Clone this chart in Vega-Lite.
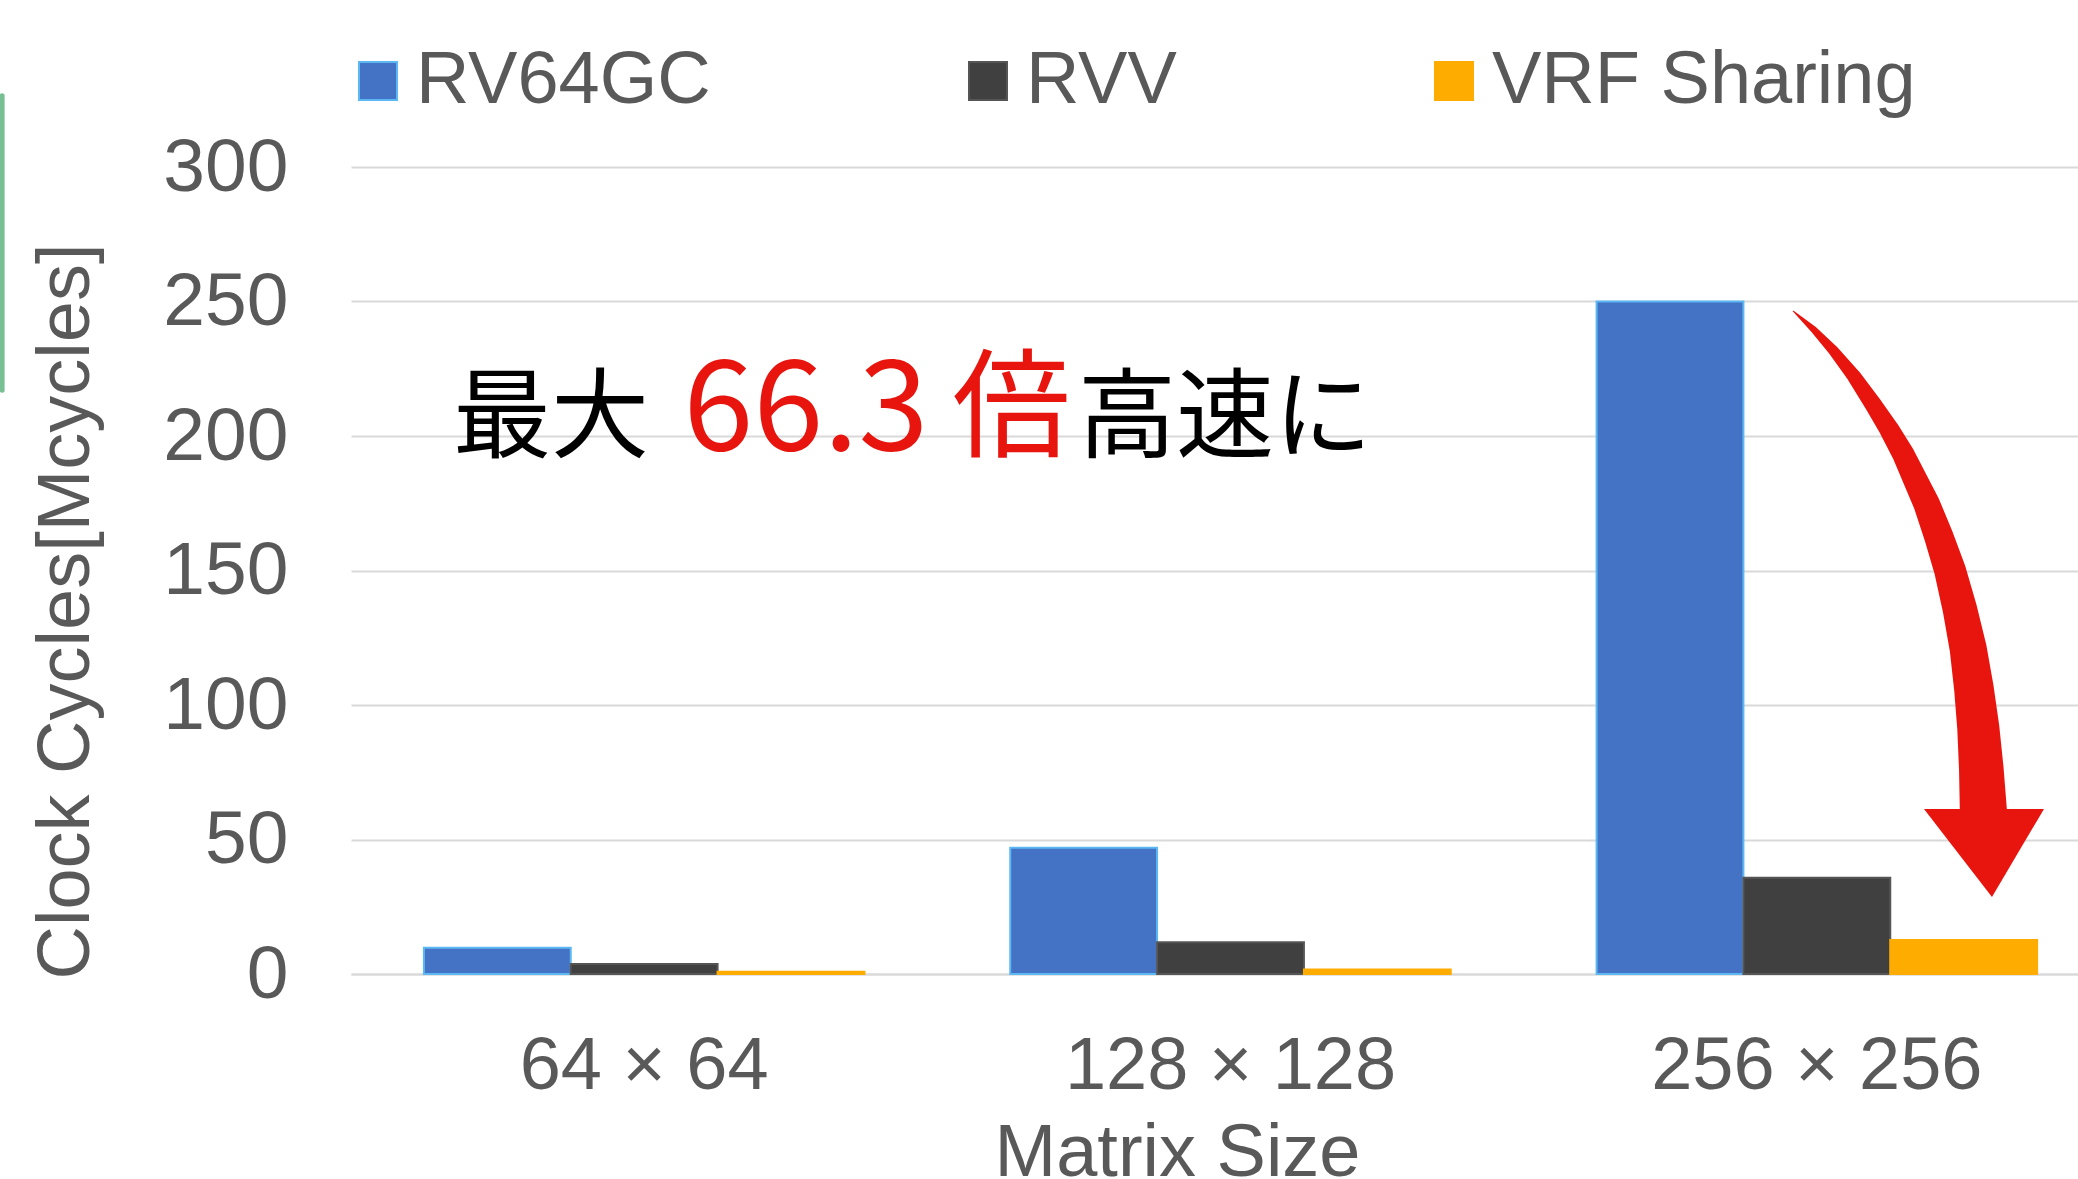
{
  "$schema": "https://vega.github.io/schema/vega-lite/v6.json",
  "width": 1727,
  "height": 807,
  "autosize": {"type": "none"},
  "padding": {"left": 351, "top": 167, "right": 0, "bottom": 205},
  "background": "#ffffff",
  "config": {"view": {"stroke": null}, "font": "Liberation Sans"},
  "datasets": {
    "bars": [
      {"size": "64 × 64", "series": "RV64GC", "cycles": 9.8},
      {"size": "64 × 64", "series": "RVV", "cycles": 3.7},
      {"size": "64 × 64", "series": "VRF Sharing", "cycles": 0.8},
      {"size": "128 × 128", "series": "RV64GC", "cycles": 46.9},
      {"size": "128 × 128", "series": "RVV", "cycles": 11.8},
      {"size": "128 × 128", "series": "VRF Sharing", "cycles": 1.7},
      {"size": "256 × 256", "series": "RV64GC", "cycles": 250},
      {"size": "256 × 256", "series": "RVV", "cycles": 35.8},
      {"size": "256 × 256", "series": "VRF Sharing", "cycles": 12.6}
    ],
    "arrow": [
      {"x": 2.4599, "y": 246.4, "t": 0},
      {"x": 2.4950, "y": 239.5, "t": 0.05},
      {"x": 2.5281, "y": 231.8, "t": 0.102},
      {"x": 2.5630, "y": 222.3, "t": 0.163},
      {"x": 2.5963, "y": 211.7, "t": 0.225},
      {"x": 2.6230, "y": 202.6, "t": 0.278},
      {"x": 2.6475, "y": 193.2, "t": 0.331},
      {"x": 2.6874, "y": 174.7, "t": 0.431},
      {"x": 2.7080, "y": 162.6, "t": 0.495},
      {"x": 2.7272, "y": 150.0, "t": 0.56},
      {"x": 2.7440, "y": 135.6, "t": 0.633},
      {"x": 2.7583, "y": 120.7, "t": 0.707},
      {"x": 2.7680, "y": 106.0, "t": 0.78},
      {"x": 2.7754, "y": 91.4, "t": 0.852},
      {"x": 2.7805, "y": 76.3, "t": 0.926},
      {"x": 2.7839, "y": 61.3, "t": 1}
    ]
  },
  "layer": [
    {
      "data": {"name": "bars"},
      "mark": {"type": "bar", "strokeWidth": 2},
      "encoding": {
        "x": {
          "field": "size", "type": "nominal",
          "sort": ["64 × 64", "128 × 128", "256 × 256"],
          "scale": {"range": [0, 1759], "paddingInner": 0.2487, "paddingOuter": 0.12435},
          "axis": {
            "title": "Matrix Size", "labelAngle": 0, "ticks": false, "tickSize": 0,
            "labelFontSize": 74, "labelColor": "#595959", "labelPadding": 114, "labelLimit": 1000,
            "labelBaseline": "alphabetic", "domainColor": "#D9D9D9", "domainWidth": 2,
            "titleFontSize": 74, "titleColor": "#595959", "titleFontWeight": "normal",
            "titleX": 826, "titleY": 201, "titleBaseline": "alphabetic", "titleAlign": "center",
            "titleLimit": 2000, "grid": false
          }
        },
        "xOffset": {
          "field": "series", "type": "nominal",
          "sort": ["RV64GC", "RVV", "VRF Sharing"],
          "scale": {"paddingInner": 0, "paddingOuter": 0}
        },
        "y": {
          "field": "cycles", "type": "quantitative", "title": "Clock Cycles[Mcycles]",
          "scale": {"domain": [0, 300], "nice": false},
          "axis": {
            "values": [0, 50, 100, 150, 200, 250, 300],
            "domain": false, "ticks": false, "tickSize": 0, "gridColor": "#D9D9D9", "gridWidth": 2,
            "labelFontSize": 75, "labelColor": "#595959", "labelPadding": 63, "labelLimit": 1000,
            "titleFontSize": 74, "titleColor": "#595959", "titleFontWeight": "normal",
            "titleX": -263, "titleY": 444, "titleBaseline": "alphabetic", "titleAlign": "center",
            "titleAngle": -90, "titleLimit": 2000
          }
        },
        "color": {
          "field": "series", "type": "nominal",
          "sort": ["RV64GC", "RVV", "VRF Sharing"],
          "scale": {"range": ["#4472C4", "#404040", "#FFAC00"]},
          "legend": {
            "title": null, "orient": "none", "legendX": -10, "legendY": -123,
            "direction": "horizontal", "symbolType": "square", "symbolSize": 1444,
            "labelFontSize": 74, "labelColor": "#595959", "labelOffset": 1, "labelLimit": 1000,
            "columnPadding": 240, "padding": 0, "symbolStrokeWidth": 2, "symbolOpacity": 1,
            "encode": {"symbols": {"update": {"stroke": {"scale": "stroke", "field": "value"}, "strokeWidth": {"value": 2}}}}
          }
        },
        "stroke": {
          "field": "series", "type": "nominal",
          "sort": ["RV64GC", "RVV", "VRF Sharing"],
          "scale": {"range": ["#5CB8F2", "#555555", "#FFAC00"]},
          "legend": null
        }
      }
    },
    {
      "layer": [
        {
          "data": {"values": [{"x": -0.595, "y": 326.5, "y2": 217}]},
          "mark": {"type": "rule", "color": "#79BF94", "strokeWidth": 5, "strokeCap": "round"},
          "encoding": {
            "x": {"field": "x", "type": "quantitative", "scale": {"domain": [0, 3], "range": [0, 1759], "nice": false, "zero": false}, "axis": null},
            "y": {"field": "y", "type": "quantitative", "title": "Clock Cycles[Mcycles]", "scale": {"domain": [0, 300], "nice": false}},
            "y2": {"field": "y2"}
          }
        },
        {
          "data": {"name": "arrow"},
          "mark": {"type": "trail", "color": "#E8150F"},
          "encoding": {
            "x": {"field": "x", "type": "quantitative", "scale": {"domain": [0, 3], "range": [0, 1759], "nice": false, "zero": false}, "axis": null},
            "y": {"field": "y", "type": "quantitative", "title": "Clock Cycles[Mcycles]", "scale": {"domain": [0, 300], "nice": false}},
            "size": {"field": "t", "type": "quantitative", "scale": {"type": "pow", "exponent": 0.7, "domain": [0, 1], "range": [1, 47]}, "legend": null},
            "order": {"field": "t", "type": "quantitative"}
          }
        },
        {
          "data": {"values": [{"x": 2.7851, "y": 45}]},
          "mark": {"type": "point", "shape": "M-1,-0.733L1,-0.733L0.133,0.733Z", "size": 14400, "filled": true, "color": "#E8150F", "opacity": 1, "strokeWidth": 0},
          "encoding": {
            "x": {"field": "x", "type": "quantitative", "scale": {"domain": [0, 3], "range": [0, 1759], "nice": false, "zero": false}, "axis": null},
            "y": {"field": "y", "type": "quantitative", "title": "Clock Cycles[Mcycles]", "scale": {"domain": [0, 300], "nice": false}}
          }
        },
        {
          "data": {"values": [{"x": 0.174, "y": 194.8, "label": "最大"}]},
          "mark": {"type": "text", "font": "Noto Sans CJK JP", "fontSize": 98, "color": "#000000", "align": "left", "baseline": "alphabetic"},
          "encoding": {
            "x": {"field": "x", "type": "quantitative", "scale": {"domain": [0, 3], "range": [0, 1759], "nice": false, "zero": false}, "axis": null},
            "y": {"field": "y", "type": "quantitative", "title": "Clock Cycles[Mcycles]", "scale": {"domain": [0, 300], "nice": false}},
            "text": {"field": "label"}
          }
        },
        {
          "data": {"values": [{"x": 0.776, "y": 194.8, "label": "66.3"}]},
          "mark": {"type": "text", "font": "Noto Sans CJK JP", "fontSize": 126, "color": "#E8150F", "align": "center", "baseline": "alphabetic"},
          "encoding": {
            "x": {"field": "x", "type": "quantitative", "scale": {"domain": [0, 3], "range": [0, 1759], "nice": false, "zero": false}, "axis": null},
            "y": {"field": "y", "type": "quantitative", "title": "Clock Cycles[Mcycles]", "scale": {"domain": [0, 300], "nice": false}},
            "text": {"field": "label"}
          }
        },
        {
          "data": {"values": [{"x": 1.1266, "y": 195.5, "label": "倍"}]},
          "mark": {"type": "text", "font": "Noto Sans CJK JP", "fontSize": 118, "color": "#E8150F", "align": "center", "baseline": "alphabetic"},
          "encoding": {
            "x": {"field": "x", "type": "quantitative", "scale": {"domain": [0, 3], "range": [0, 1759], "nice": false, "zero": false}, "axis": null},
            "y": {"field": "y", "type": "quantitative", "title": "Clock Cycles[Mcycles]", "scale": {"domain": [0, 300], "nice": false}},
            "text": {"field": "label"}
          }
        },
        {
          "data": {"values": [{"x": 1.240, "y": 194.8, "label": "高速に"}]},
          "mark": {"type": "text", "font": "Noto Sans CJK JP", "fontSize": 98, "color": "#000000", "align": "left", "baseline": "alphabetic"},
          "encoding": {
            "x": {"field": "x", "type": "quantitative", "scale": {"domain": [0, 3], "range": [0, 1759], "nice": false, "zero": false}, "axis": null},
            "y": {"field": "y", "type": "quantitative", "title": "Clock Cycles[Mcycles]", "scale": {"domain": [0, 300], "nice": false}},
            "text": {"field": "label"}
          }
        }
      ]
    }
  ],
  "resolve": {"scale": {"x": "independent"}, "axis": {"x": "independent"}}
}
